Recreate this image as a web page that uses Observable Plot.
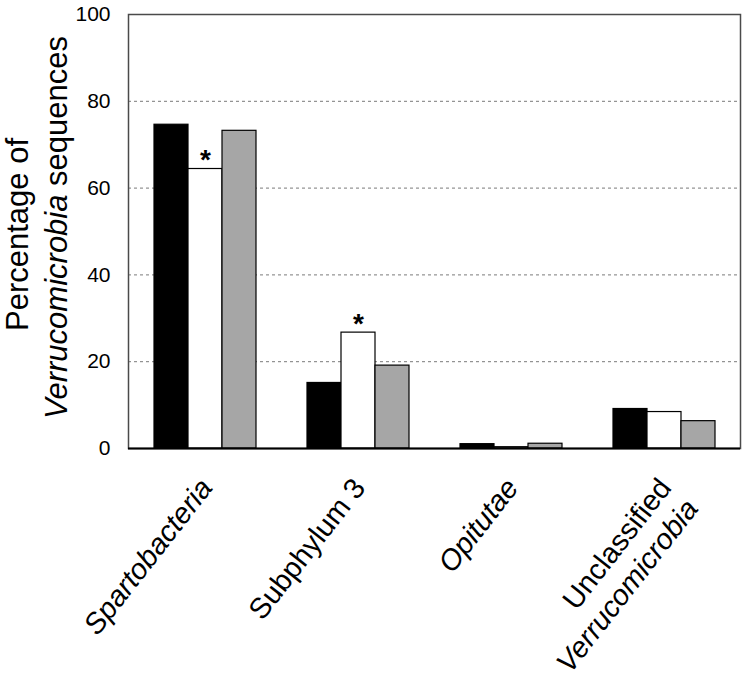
<!DOCTYPE html>
<html>
<head>
<meta charset="utf-8">
<script src="https://cdn.jsdelivr.net/npm/d3@7"></script>
<script src="https://cdn.jsdelivr.net/npm/@observablehq/plot@0.6"></script>
<style>
  html, body { margin: 0; padding: 0; background: #fff; }
  #chart svg { display: block; }
</style>
</head>
<body>
<div id="chart"></div>
<script>
// ---- data ----
const categories = ["Spartobacteria", "Subphylum 3", "Opitutae", "Unclassified Verrucomicrobia"];
const blackValues = [74.6, 15.1, 1.0, 9.1];
const whiteValues = [64.4, 26.7, 0.3, 8.4];
const grayValues  = [73.2, 19.1, 1.1, 6.3];
const whiteSignificant = [true, true, false, false];
const yTicks = [0, 20, 40, 60, 80, 100];
const gridTicks = [20, 40, 60, 80];
const labelLine1 = ["Spartobacteria", "Subphylum 3", "Opitutae", "Unclassified"];
const labelLine1Italic = [true, false, true, false];
const labelLine2 = ["", "", "", "Verrucomicrobia"];

// ---- tables built from the arrays ----
const bars = (vals) => categories.map((c, i) => ({category: c, value: vals[i]}));
const blackBars = bars(blackValues);
const whiteBars = bars(whiteValues);
const grayBars = bars(grayValues);
const stars = whiteBars.filter((d, i) => whiteSignificant[i]);
const labels = categories.map((c, i) => ({category: c, line1: labelLine1[i], italic: labelLine1Italic[i], line2: labelLine2[i]}));

const font = "Liberation Sans, Arial, Helvetica, sans-serif";
const lab = {x: "category", frameAnchor: "bottom", dx: -8, dy: 27, rotate: -52, textAnchor: "end", lineAnchor: "top", fontSize: 29};

const chart = Plot.plot({
  width: 746,
  height: 680,
  marginLeft: 128,
  marginRight: 6,
  marginTop: 14,
  marginBottom: 232,
  style: {fontFamily: font, background: "#fff", color: "#000", overflow: "visible"},
  x: {domain: categories, paddingInner: 1/3, paddingOuter: 1/6, axis: null},
  y: {domain: [0, 100], axis: null},
  marks: [
    Plot.gridY(gridTicks, {stroke: "#7a7a7a", strokeOpacity: 1, strokeDasharray: "3,3", strokeWidth: 1}),
    Plot.frame({stroke: "#4a4a4a", strokeWidth: 1.5}),
    Plot.barY(blackBars, {x: "category", y: "value", fill: "#000", stroke: "#000", strokeWidth: 1.2, insetLeft: 0, insetRight: 68}),
    Plot.barY(whiteBars, {x: "category", y: "value", fill: "#fff", stroke: "#000", strokeWidth: 1.2, insetLeft: 34, insetRight: 34}),
    Plot.barY(grayBars, {x: "category", y: "value", fill: "#a6a6a6", stroke: "#000", strokeWidth: 1.2, insetLeft: 68, insetRight: 0}),
    Plot.ruleY([0], {stroke: "#000", strokeWidth: 2}),
    Plot.axisY({ticks: yTicks, tickSize: 0, tickPadding: 18, fontSize: 21, label: null, tickFormat: d => d}),
    Plot.text(stars, {x: "category", y: "value", text: () => "*", dy: -9, fontSize: 28, fontWeight: "bold"}),
    // category labels
    Plot.text(labels.filter(d => d.italic), {...lab, text: "line1", fontStyle: "italic"}),
    Plot.text(labels.filter(d => !d.italic), {...lab, text: "line1"}),
    Plot.text(labels.filter(d => d.line2), {...lab, text: d => "\n" + d.line2, lineHeight: 1.1, fontStyle: "italic"}),
    // y axis title
    Plot.text(["Percentage of"], {frameAnchor: "left", dx: -101, dy: 3, rotate: -90, textAnchor: "middle", lineAnchor: "bottom", fontSize: 31}),
    Plot.text(["Verrucomicrobia"], {frameAnchor: "left", dx: -62, dy: -37, rotate: -90, textAnchor: "end", lineAnchor: "bottom", fontSize: 31, fontStyle: "italic"}),
    Plot.text([" sequences"], {frameAnchor: "left", dx: -62, dy: -37, rotate: -90, textAnchor: "start", lineAnchor: "bottom", fontSize: 31})
  ]
});
document.getElementById("chart").appendChild(chart);
</script>
</body>
</html>
